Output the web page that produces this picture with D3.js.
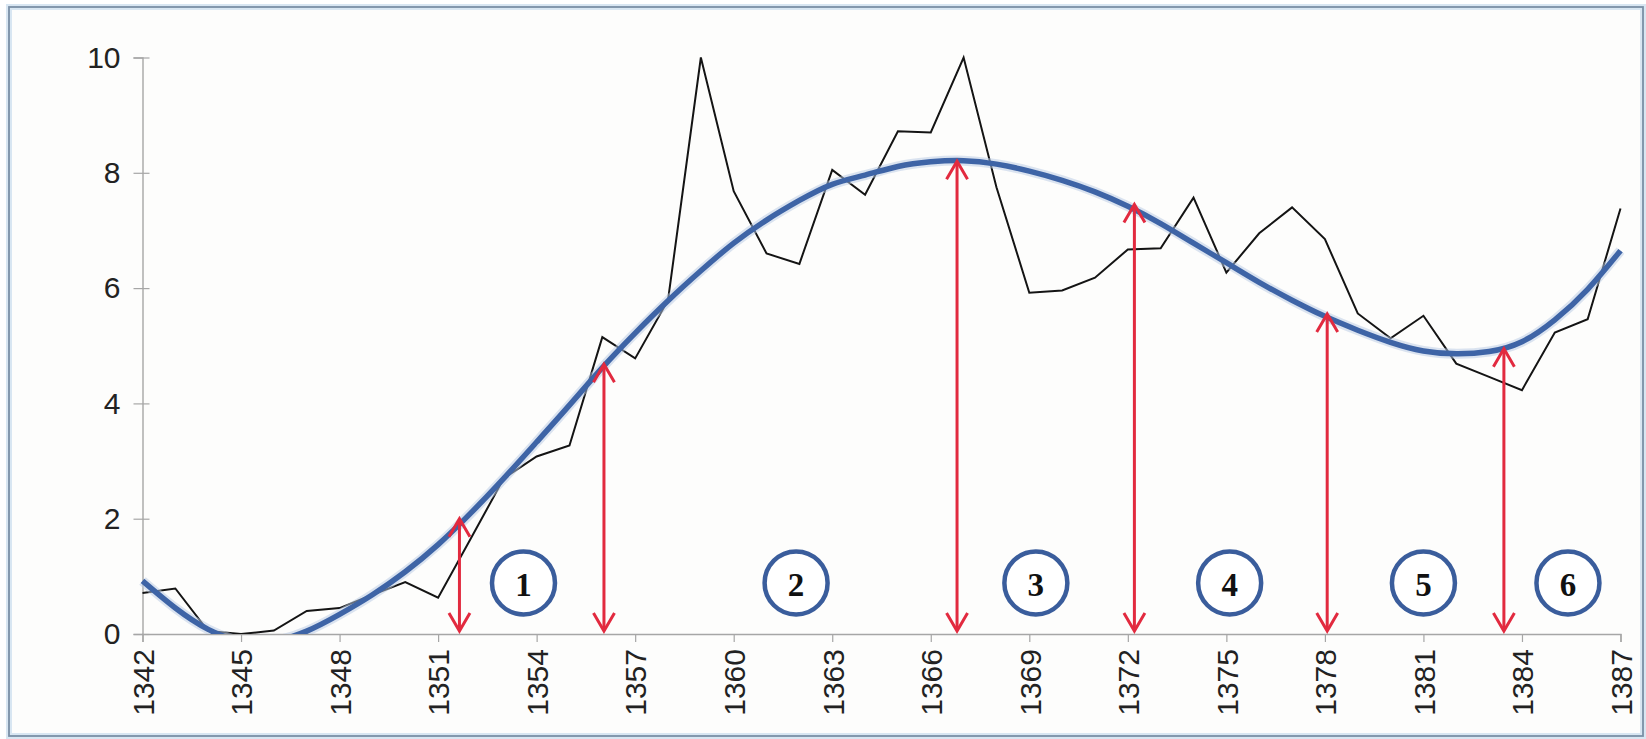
<!DOCTYPE html>
<html><head><meta charset="utf-8">
<script src="https://cdn.jsdelivr.net/npm/d3@7"></script>
<style>
html,body{margin:0;padding:0;background:#fff;}
svg{display:block;}
</style></head><body>
<svg id="chart" width="1646" height="739"></svg>
<script>
const years = [1342,1343,1344,1345,1346,1347,1348,1349,1350,1351,1352,1353,1354,1355,1356,1357,1358,1359,1360,1361,1362,1363,1364,1365,1366,1367,1368,1369,1370,1371,1372,1373,1374,1375,1376,1377,1378,1379,1380,1381,1382,1383,1384,1385,1386,1387];
const observed = [0.71,0.79,0.05,0,0.06,0.40,0.45,0.68,0.90,0.63,1.66,2.70,3.08,3.27,5.15,4.78,5.79,10.0,7.68,6.60,6.42,8.05,7.62,8.72,8.70,10.0,7.75,5.92,5.96,6.18,6.67,6.69,7.57,6.27,6.95,7.40,6.85,5.56,5.13,5.52,4.69,4.46,4.23,5.23,5.46,7.38];
const trend = [0.92,0.45,0.08,-0.12,-0.12,0.05,0.34,0.68,1.08,1.55,2.10,2.70,3.33,3.97,4.62,5.22,5.78,6.30,6.78,7.18,7.52,7.80,7.96,8.11,8.19,8.21,8.15,8.03,7.87,7.67,7.42,7.12,6.78,6.44,6.10,5.79,5.51,5.27,5.06,4.91,4.86,4.90,5.07,5.45,5.98,6.65];
const xTickLabels = [1342,1345,1348,1351,1354,1357,1360,1363,1366,1369,1372,1375,1378,1381,1384,1387];
const yTickLabels = [0,2,4,6,8,10];
const arrowYears = [1351.65,1356.05,1366.8,1372.2,1378.07,1383.45];
const arrowTops = [2.0,4.68,8.2,7.45,5.55,4.95];
const circleYears = [1353.6,1361.9,1369.2,1375.1,1381.0,1385.4];
const circleValue = 0.885;
const circleLabels = ["1","2","3","4","5","6"];

const svg = d3.select("#chart");
const x = d3.scaleLinear().domain([1342,1387]).range([142.5,1620.5]);
const y = d3.scaleLinear().domain([0,10]).range([634,57.5]);

// frame
svg.append("rect").attr("x",0).attr("y",0).attr("width",1646).attr("height",739).attr("fill","#ffffff");
svg.append("rect").attr("x",9).attr("y",7).attr("width",1634).attr("height",729)
  .attr("fill","#fdfdfc").attr("stroke","#d8e6f2").attr("stroke-width",6);
svg.append("rect").attr("x",9).attr("y",7).attr("width",1634).attr("height",729)
  .attr("fill","none").attr("stroke","#7a8fa6").attr("stroke-width",1.8);

svg.append("defs").append("clipPath").attr("id","plotclip")
  .append("rect").attr("x",x(1342)-4).attr("y",y(10)-6).attr("width",x(1387)-x(1342)+8).attr("height",y(0)-y(10)+6);

// axes
const yAxis = svg.append("g").attr("transform",`translate(${x(1342)},0)`)
  .call(d3.axisLeft(y).tickValues(yTickLabels).tickSize(9).tickPadding(13).tickFormat(d3.format("d")));
yAxis.selectAll(".tick line").attr("x2",-9).attr("x1",7);
const xAxis = svg.append("g").attr("transform",`translate(0,${y(0)})`)
  .call(d3.axisBottom(x).tickValues(xTickLabels).tickSize(8).tickFormat(d3.format("d")));
[yAxis,xAxis].forEach(g=>{
  g.select(".domain").attr("stroke","#a6a6a6").attr("stroke-width",1.4);
  g.selectAll(".tick line").attr("stroke","#a6a6a6").attr("stroke-width",1.2);
  g.selectAll("text").attr("fill","#222").style("font-family","'Liberation Sans', Arial, sans-serif").style("font-size","30px");
});
xAxis.selectAll("text")
  .attr("transform","rotate(-90)")
  .attr("text-anchor","end")
  .attr("x",-15).attr("y",0).attr("dy","0.36em");

const plot = svg.append("g").attr("clip-path","url(#plotclip)");

// observed series
const lineObs = d3.line().x((d,i)=>x(years[i])).y(d=>y(d));
plot.append("path").datum(observed).attr("d",lineObs)
  .attr("fill","none").attr("stroke","#141414").attr("stroke-width",2).attr("stroke-linejoin","miter");

// trend
const lineTrend = d3.line().x((d,i)=>x(years[i])).y(d=>y(d)).curve(d3.curveNatural);
plot.append("path").datum(trend).attr("d",lineTrend)
  .attr("fill","none").attr("stroke","#b7c9e4").attr("stroke-width",10).attr("opacity",0.5);
plot.append("path").datum(trend).attr("d",lineTrend)
  .attr("fill","none").attr("stroke","#3e64a6").attr("stroke-width",5.5);

// arrows
const red = "#e22a3f";
const ag = svg.append("g");
arrowYears.forEach((yr,i)=>{
  const ax = x(yr), top = y(arrowTops[i]), bot = y(0)-3;
  ag.append("line").attr("x1",ax).attr("x2",ax).attr("y1",top+1).attr("y2",bot-1)
    .attr("stroke",red).attr("stroke-width",3);
  ag.append("path").attr("d",`M${ax-10.5},${top+18}L${ax},${top}L${ax+10.5},${top+18}`)
    .attr("fill","none").attr("stroke",red).attr("stroke-width",3);
  ag.append("path").attr("d",`M${ax-10.5},${bot-18}L${ax},${bot}L${ax+10.5},${bot-18}`)
    .attr("fill","none").attr("stroke",red).attr("stroke-width",3);
});

// circled numbers
const cg = svg.append("g");
circleYears.forEach((yr,i)=>{
  const cx = x(yr), cy = y(circleValue);
  cg.append("circle").attr("cx",cx).attr("cy",cy).attr("r",31.5)
    .attr("fill","#ffffff").attr("stroke","#3a5d9c").attr("stroke-width",4.5);
  cg.append("text").attr("x",cx).attr("y",cy+2).attr("text-anchor","middle").attr("dominant-baseline","central")
    .style("font-family","'Liberation Serif','DejaVu Serif',serif").style("font-size","33px").style("font-weight","bold")
    .attr("fill","#111").text(circleLabels[i]);
});
</script>
</body></html>
